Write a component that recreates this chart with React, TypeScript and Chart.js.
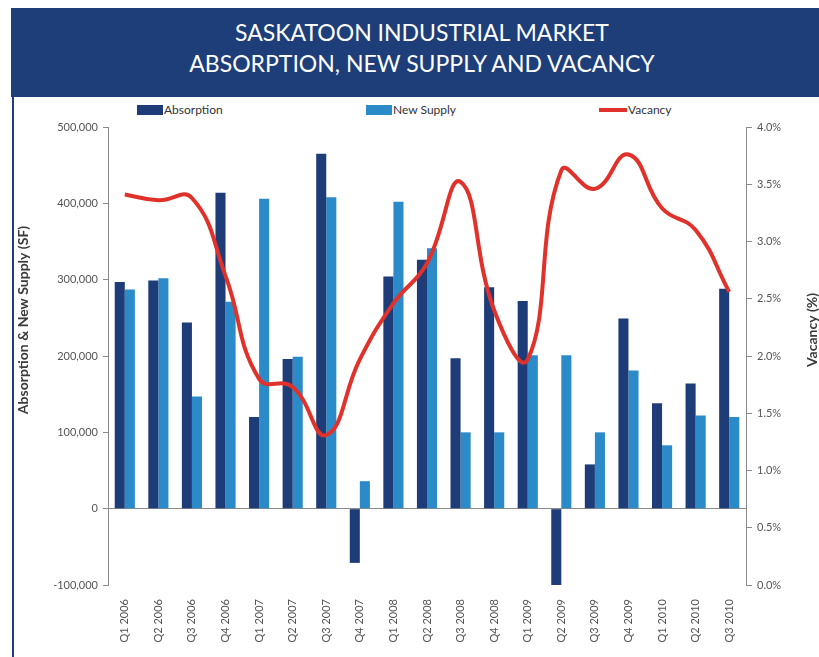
import React, { useEffect, useRef } from "react";
import { Chart, registerables } from "chart.js";

Chart.register(...registerables);

const categories = [
  "Q1 2006", "Q2 2006", "Q3 2006", "Q4 2006",
  "Q1 2007", "Q2 2007", "Q3 2007", "Q4 2007",
  "Q1 2008", "Q2 2008", "Q3 2008", "Q4 2008",
  "Q1 2009", "Q2 2009", "Q3 2009", "Q4 2009",
  "Q1 2010", "Q2 2010", "Q3 2010",
];

const absorption = [
  297000, 299000, 244000, 414000,
  120000, 196000, 465000, -71000,
  304000, 326000, 197000, 290000,
  272000, -104000, 58000, 249000,
  138000, 164000, 288000,
];

const newSupply = [
  287000, 302000, 147000, 271000,
  406000, 199000, 408000, 36000,
  402000, 341000, 100000, 100000,
  201000, 201000, 100000, 181000,
  83000, 122000, 120000,
];

const vacancy = [
  3.41, 3.36, 3.38, 2.7,
  1.8, 1.73, 1.31, 1.97,
  2.46, 2.81, 3.52, 2.4,
  1.97, 3.62, 3.46, 3.76,
  3.29, 3.1, 2.56,
];

const titleLines = ["SASKATOON INDUSTRIAL MARKET", "ABSORPTION, NEW SUPPLY AND VACANCY"];
const seriesNames = ["Absorption", "New Supply", "Vacancy"];
const leftAxisTitle = "Absorption & New Supply (SF)";
const rightAxisTitle = "Vacancy (%)";

const DARK = "#1e3d78";
const LIGHT = "#2b8bc9";
const RED = "#e0322b";
const AXIS = "#8a8a8a";
const TICK_TEXT = "#555555";
const FONT = "Lato, 'Open Sans', sans-serif";

const axisTitlesPlugin = {
  id: "axisTitles",
  afterDraw(chart: any) {
    const { ctx, chartArea } = chart;
    const mid = (chartArea.top + chartArea.bottom) / 2;
    ctx.save();
    ctx.font = `bold 14px ${FONT}`;
    ctx.fillStyle = "#3a3a3a";
    ctx.textAlign = "center";
    ctx.textBaseline = "middle";
    ctx.save();
    ctx.translate(9, mid - 36);
    ctx.rotate(-Math.PI / 2);
    ctx.fillText(leftAxisTitle, 0, 0);
    ctx.restore();
    ctx.save();
    ctx.translate(chart.width - 7, mid - 26);
    ctx.rotate(-Math.PI / 2);
    ctx.fillText(rightAxisTitle, 0, 0);
    ctx.restore();
    ctx.restore();
  },
};

export default function App() {
  const canvasRef = useRef<HTMLCanvasElement | null>(null);

  useEffect(() => {
    if (!canvasRef.current) return;
    const chart = new Chart(canvasRef.current, {
      type: "bar",
      data: {
        labels: categories,
        datasets: [
          {
            type: "line",
            label: seriesNames[2],
            data: vacancy,
            yAxisID: "y1",
            borderColor: RED,
            backgroundColor: RED,
            borderWidth: 4,
            pointRadius: 0,
            tension: 0.45,
            fill: false,
            order: 0,
          } as any,
          {
            type: "bar",
            label: seriesNames[0],
            data: absorption,
            yAxisID: "y",
            backgroundColor: DARK,
            barPercentage: 1,
            categoryPercentage: 0.6,
            order: 1,
          },
          {
            type: "bar",
            label: seriesNames[1],
            data: newSupply,
            yAxisID: "y",
            backgroundColor: LIGHT,
            barPercentage: 1,
            categoryPercentage: 0.6,
            order: 2,
          },
        ],
      },
      options: {
        responsive: false,
        animation: false,
        devicePixelRatio: 1,
        layout: { padding: { top: 30, left: 0, right: 0, bottom: 0 } },
        plugins: {
          legend: { display: false },
          tooltip: { enabled: false },
        },
        scales: {
          x: {
            grid: { display: false },
            border: { display: false },
            ticks: {
              minRotation: 90,
              maxRotation: 90,
              autoSkip: false,
              padding: 6,
              color: TICK_TEXT,
              font: { family: FONT, size: 11 },
            },
            afterFit: (s: any) => {
              s.height = 72;
            },
          },
          y: {
            position: "left",
            min: -100000,
            max: 500000,
            ticks: {
              stepSize: 100000,
              color: TICK_TEXT,
              font: { family: FONT, size: 11 },
              padding: 5,
              callback: (v: any) => Number(v).toLocaleString("en-US"),
            },
            grid: {
              drawOnChartArea: true,
              color: (c: any) => (c.tick && c.tick.value === 0 ? AXIS : "rgba(0,0,0,0)"),
              tickColor: AXIS,
              tickLength: 5,
            },
            border: { color: AXIS, width: 1 },
            afterFit: (s: any) => {
              s.width = 94;
            },
          },
          y1: {
            position: "right",
            min: 0,
            max: 4,
            ticks: {
              stepSize: 0.5,
              color: TICK_TEXT,
              font: { family: FONT, size: 11 },
              padding: 5,
              callback: (v: any) => Number(v).toFixed(1) + "%",
            },
            grid: {
              drawOnChartArea: false,
              tickColor: AXIS,
              tickLength: 6,
            },
            border: { color: AXIS, width: 1 },
            afterFit: (s: any) => {
              s.width = 73;
            },
          },
        },
      },
      plugins: [axisTitlesPlugin],
    });
    return () => chart.destroy();
  }, []);

  const legendText: React.CSSProperties = {
    position: "absolute",
    top: 103,
    fontFamily: FONT,
    fontSize: 12,
    color: "#333",
    lineHeight: "14px",
  };

  return (
    <div
      style={{
        position: "fixed",
        left: 0,
        top: 0,
        width: 819,
        height: 657,
        background: "#ffffff",
        overflow: "hidden",
      }}
    >
      <div
        style={{
          position: "absolute",
          left: 11,
          top: 8,
          width: 808,
          height: 89,
          background: "#1d3e79",
          color: "#ffffff",
          fontFamily: FONT,
          fontSize: 23,
          textAlign: "center",
          lineHeight: "31px",
          paddingTop: 9,
          boxSizing: "border-box",
        }}
      >
        <div style={{ marginLeft: 14 }}>{titleLines[0]}</div>
        <div style={{ marginLeft: 14 }}>{titleLines[1]}</div>
      </div>
      <div
        style={{
          position: "absolute",
          left: 12,
          top: 97,
          width: 2,
          height: 560,
          background: "#1d3e79",
        }}
      />
      <div style={{ position: "absolute", left: 137, top: 105, width: 26, height: 10, background: DARK }} />
      <div style={{ ...legendText, left: 164 }}>{seriesNames[0]}</div>
      <div style={{ position: "absolute", left: 366, top: 105, width: 26, height: 10, background: LIGHT }} />
      <div style={{ ...legendText, left: 393 }}>{seriesNames[1]}</div>
      <div style={{ position: "absolute", left: 599, top: 108, width: 28, height: 4, background: RED }} />
      <div style={{ ...legendText, left: 628 }}>{seriesNames[2]}</div>
      <div style={{ position: "absolute", left: 14, top: 97, width: 805, height: 560 }}>
        <canvas ref={canvasRef} width={805} height={560} />
      </div>
    </div>
  );
}
